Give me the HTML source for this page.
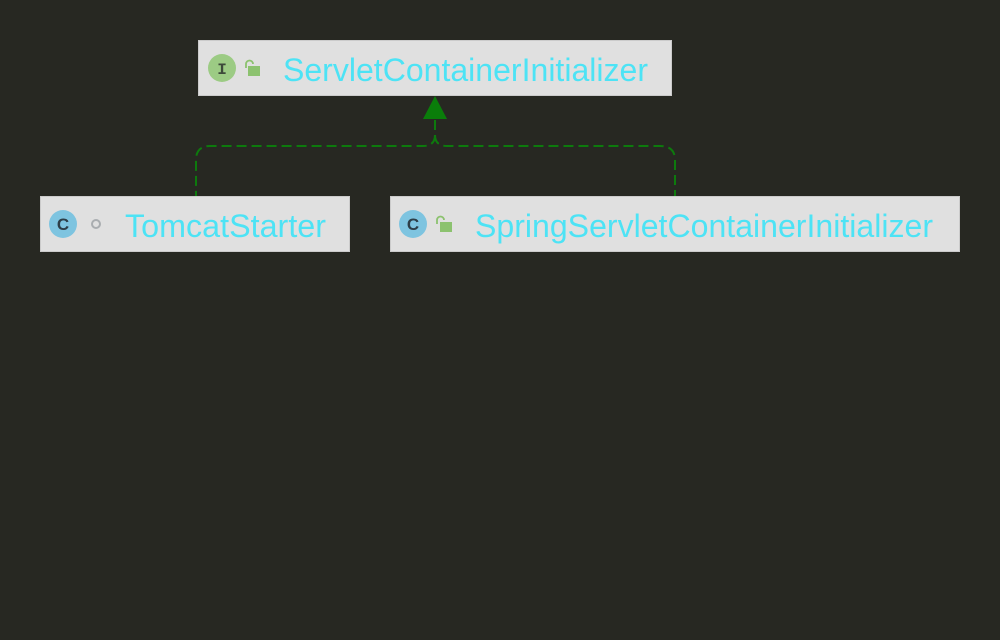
<!DOCTYPE html>
<html><head><style>
html,body{margin:0;padding:0;background:#272822;}
svg{display:block}
</style></head><body>
<svg width="1000" height="640" xmlns="http://www.w3.org/2000/svg">
<rect width="1000" height="640" fill="#272822"/>
<rect x="198.5" y="40.5" width="473" height="55" fill="#e0e0e0" stroke="#cbcbcb"/>
<rect x="40.5" y="196.5" width="309" height="55" fill="#e0e0e0" stroke="#cbcbcb"/>
<rect x="390.5" y="196.5" width="569" height="55" fill="#e0e0e0" stroke="#cbcbcb"/>
<g fill="none" stroke="#0d7a0d" stroke-width="2" stroke-dasharray="10,5">
<path d="M435 120 V135 Q435 146 423 146 H210 Q196 146 196 160 V196"/>
<path d="M435 135 Q435 146 447 146 H660 Q675 146 675 160 V196"/>
</g>
<polygon points="435,96 423,119 447,119" fill="#0a7d0a"/>
<circle cx="222" cy="68" r="14" fill="#9ccb84"/>
<text x="222" y="74" font-family="Liberation Mono, monospace" font-size="16" font-weight="bold" fill="#3d4a3a" text-anchor="middle">I</text>
<path d="M246 68 V64 a3.5 3.5 0 0 1 7 0" fill="none" stroke="#8cc26f" stroke-width="1.8"/>
<rect x="248" y="66" width="12" height="10" fill="#8cc26f"/>
<circle cx="63" cy="224" r="14" fill="#7ec4e0"/>
<text x="63" y="230" font-family="Liberation Sans, sans-serif" font-size="17" font-weight="bold" fill="#2d3e48" text-anchor="middle">C</text>
<circle cx="96" cy="224" r="4" fill="none" stroke="#a9adb0" stroke-width="2"/>
<circle cx="413" cy="224" r="14" fill="#7ec4e0"/>
<text x="413" y="230" font-family="Liberation Sans, sans-serif" font-size="17" font-weight="bold" fill="#2d3e48" text-anchor="middle">C</text>
<path d="M437 224 V220 a3.5 3.5 0 0 1 7 0" fill="none" stroke="#8cc26f" stroke-width="1.8"/>
<rect x="440" y="222" width="12" height="10" fill="#8cc26f"/>
<g font-family="Liberation Sans, sans-serif" font-size="32" fill="#4de3f5">
<text x="283" y="81" textLength="365" lengthAdjust="spacingAndGlyphs">ServletContainerInitializer</text>
<text x="125" y="237" textLength="201" lengthAdjust="spacingAndGlyphs">TomcatStarter</text>
<text x="475" y="237" textLength="458" lengthAdjust="spacingAndGlyphs">SpringServletContainerInitializer</text>
</g>
</svg>
</body></html>
